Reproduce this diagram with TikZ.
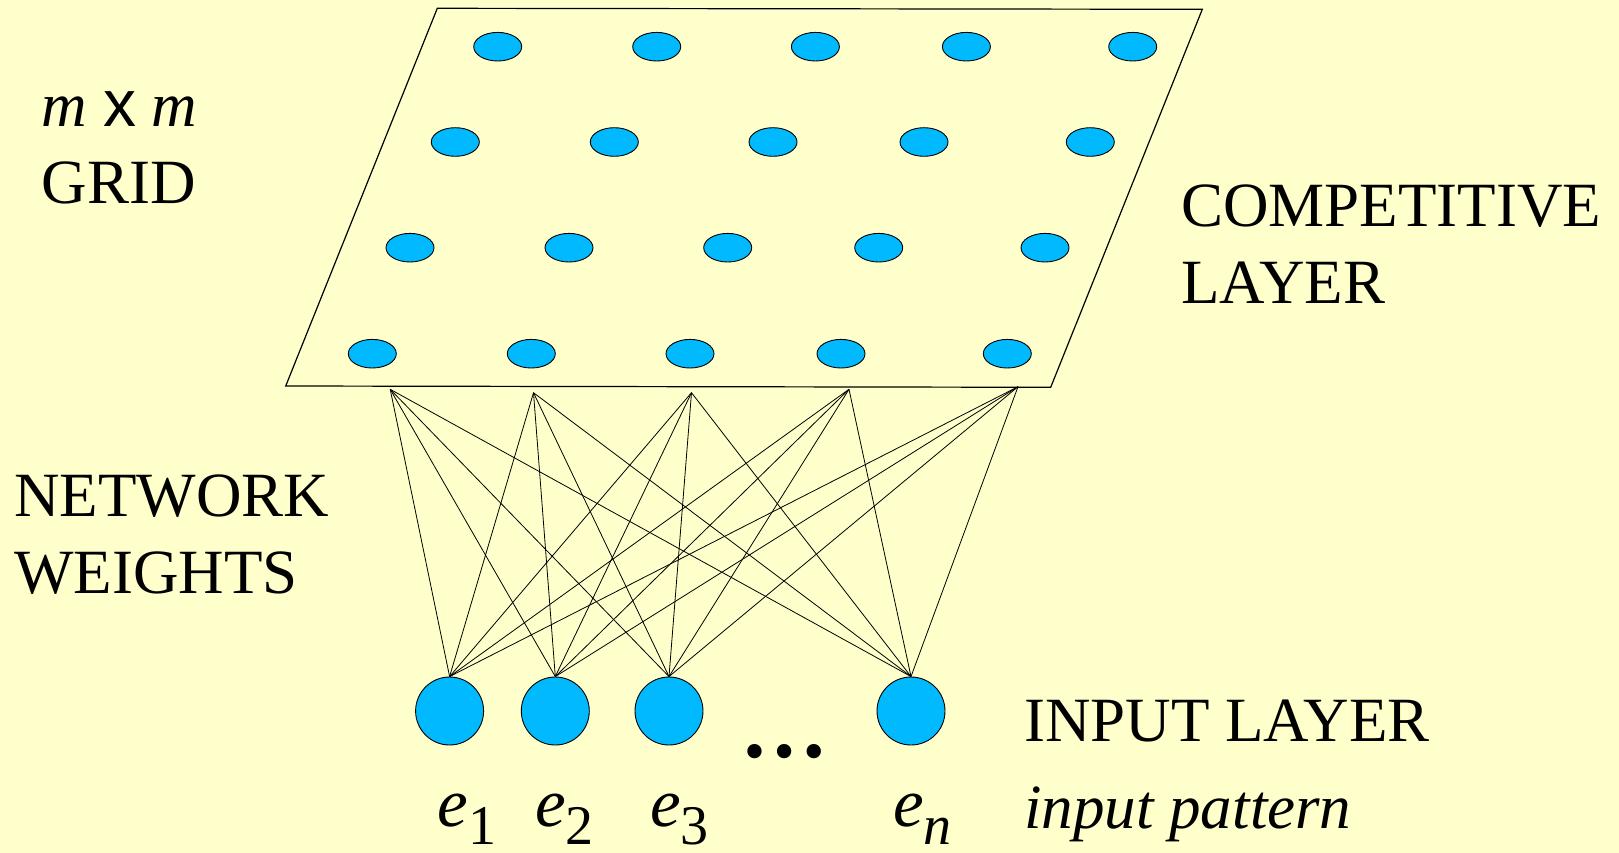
\documentclass[tikz,border=0pt]{standalone}
\usepackage{fontspec}
\setmainfont{Liberation Serif}
\setsansfont{Liberation Sans}
\usetikzlibrary{shapes.geometric}

\definecolor{paper}{HTML}{FFFFCC}
\definecolor{unitblue}{HTML}{00B9FF}

\tikzset{
    lbl/.style={inner sep=0pt, anchor=base west, font=\fontsize{63}{77}\selectfont},
    sublbl/.style={lbl, font=\fontsize{69}{77}\selectfont},
    cell/.style={ellipse, draw, fill=unitblue, line width=0.9pt, minimum width=48pt, minimum height=28.6pt, inner sep=0pt},
    unit/.style={circle, draw, fill=unitblue, line width=0.9pt, minimum size=68pt, inner sep=0pt},
    weight/.style={line width=0.8pt}
}
\newcommand{\inname}[1]{\itshape e\upshape\raisebox{-18pt}{\fontsize{56}{60}\selectfont #1}}

\begin{document}
\begin{tikzpicture}[x=1pt, y=-1pt]
    % Page
    \fill[paper] (0,0) rectangle (1619,853);
    \useasboundingbox (0,0) rectangle (1619,853);

    % Competitive layer
    \draw[line width=1.2pt] (437.3,8.3) -- (1202.3,9.3) -- (1050.7,387.3) -- (285.7,386) -- cycle;
    \foreach \r/\y/\s in {1/46.7/497.7, 2/142/455.3, 3/247.7/410, 4/353.7/372.3}
        \foreach \c/\dx in {1/0, 2/159, 3/317.7, 4/468.7, 5/635}
            \node[cell] (g\r\c) at (\s+\dx,\y) {};

    % Weight anchors under the grid
    \coordinate (w1) at (390.2,389.3);
    \coordinate (w2) at (533.5,392.7);
    \coordinate (w3) at (691.5,392.7);
    \coordinate (w4) at (849,389.3);
    \coordinate (w5) at (1018,386.7);

    % Input layer
    \node[unit] (e1) at (449.6,711) {};
    \node[unit] (e2) at (555.3,711) {};
    \node[unit] (e3) at (669,711) {};
    \node[unit] (en) at (911,711) {};
    \node[inner sep=0pt, anchor=base, font=\fontsize{88}{90}\selectfont\bfseries] (dots) at (784.7,757) {…};

    % Network weights
    \foreach \w in {w1,w2,w3,w4,w5}
        \foreach \e in {e1,e2,e3,en}
            \draw[weight] (\w) -- (\e.north);

    % Labels
    \node[lbl] (mxm) at (41.7,126.7) {\itshape m {\upshape\sffamily\fontsize{66}{77}\selectfont x} m};
    \node[lbl] (grid) at (41.7,204) {GRID};
    \node[lbl] (comp) at (1181,226.7) {COMPETITIVE};
    \node[lbl] (layer) at (1181,303) {LAYER};
    \node[lbl] (net) at (14,516.7) {NETWORK};
    \node[lbl] (wts) at (14,593) {WEIGHTS};
    \node[lbl] (inlayer) at (1024,741.7) {INPUT LAYER};
    \node[lbl] (pattern) at (1024,828) {\itshape input pattern};

    % Input names
    \node[sublbl] (lab1) at (437.4,826) {\inname{1}};
    \node[sublbl] (lab2) at (535,826) {\inname{2}};
    \node[sublbl] (lab3) at (650,826) {\inname{3}};
    \node[sublbl] (labn) at (893,826) {\inname{\itshape n}};
\end{tikzpicture}
\end{document}
